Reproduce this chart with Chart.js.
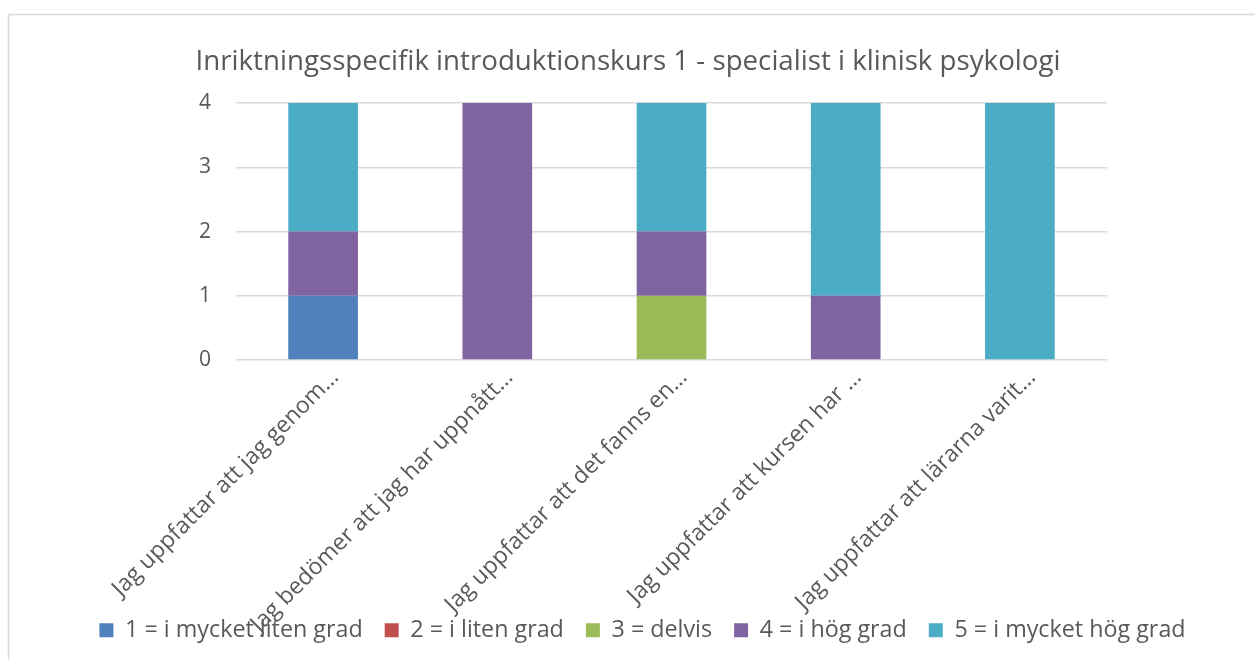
<!DOCTYPE html>
<html><head><meta charset="utf-8">
<script src="https://cdn.jsdelivr.net/npm/chart.js@4"></script>
<style>html,body{margin:0;padding:0;background:#fff;overflow:hidden}</style>
</head><body>
<canvas id="c" width="1255" height="660"></canvas>
<script>
const categories = [
  "Jag uppfattar att jag genom…",
  "Jag bedömer att jag har uppnått…",
  "Jag uppfattar att det fanns en…",
  "Jag uppfattar att kursen har …",
  "Jag uppfattar att lärarna varit…"
];
const seriesNames = ["1 = i mycket liten grad","2 = i liten grad","3 = delvis","4 = i hög grad","5 = i mycket hög grad"];
const s1 = [1, 0, 0, 0, 0];
const s2 = [0, 0, 0, 0, 0];
const s3 = [0, 0, 1, 0, 0];
const s4 = [1, 4, 1, 1, 0];
const s5 = [2, 0, 2, 3, 4];
const yTicks = [0, 1, 2, 3, 4];
const colors = ["#4F81BD","#C0504D","#9BBB59","#8064A2","#4BACC6"];
const titleText = "Inriktningsspecifik introduktionskurs 1 - specialist i klinisk psykologi";
const FONT = "'Open Sans'";
const TXT = "#595959";

const framePlugin = {
  id: 'frame',
  afterLayout(chart) {
    // centre the title on the whole canvas while the legend stays centred on its own box
    if (chart.titleBlock) chart.titleBlock.left -= 29;
  },
  beforeDraw(chart) {
    const ctx = chart.ctx;
    ctx.save();
    ctx.fillStyle = '#fff';
    ctx.fillRect(0, 0, chart.width, chart.height);
    ctx.strokeStyle = '#d9d9d9';
    ctx.lineWidth = 1.5;
    ctx.strokeRect(8.5, 14.5, 1400, 800);
    ctx.restore();
  }
};

const series = [s1, s2, s3, s4, s5];
new Chart(document.getElementById('c'), {
  type: 'bar',
  data: {
    labels: categories,
    datasets: series.map((d, i) => ({
      label: seriesNames[i],
      data: d,
      backgroundColor: colors[i],
      borderWidth: 0,
      barPercentage: 0.8,
      categoryPercentage: 0.5
    }))
  },
  options: {
    responsive: false,
    animation: false,
    devicePixelRatio: 1,
    layout: { padding: { left: 30, right: 0, top: 14, bottom: 8 } },
    plugins: {
      title: {
        display: true, text: titleText, color: TXT,
        font: { family: FONT, size: 27.7, weight: 'normal', lineHeight: 1.2 },
        padding: { top: 31.4, bottom: 24.4 }
      },
      legend: {
        position: 'bottom',
        labels: {
          color: TXT, font: { family: FONT, size: 23.3 },
          boxWidth: 14, boxHeight: 14, padding: 22
        }
      },
      tooltip: { enabled: false }
    },
    scales: {
      x: {
        stacked: true,
        grid: { display: false },
        border: { display: false },
        ticks: {
          color: TXT, font: { family: FONT, size: 23 },
          minRotation: 45, maxRotation: 45, autoSkip: false, padding: -4, labelOffset: 12
        },
        afterFit(s) {
          s.height = 236.7;
          // let the long rotated labels run over the legend as in the original
          s._computeLabelArea = () => undefined;
        }
      },
      y: {
        stacked: true, min: 0, max: 4,
        afterBuildTicks(s) { s.ticks = yTicks.map(v => ({ value: v })); },
        grid: { color: '#d9d9d9', lineWidth: 1.5, drawTicks: false },
        border: { display: false },
        ticks: { color: TXT, font: { family: FONT, size: 21 }, padding: 25 },
        afterFit(s) { s.width = 206; }
      },
      yr: {
        position: 'right', display: true,
        grid: { display: false }, border: { display: false },
        ticks: { display: false },
        afterFit(s) { s.width = 148; }
      }
    }
  },
  plugins: [framePlugin]
});
</script>
</body></html>
